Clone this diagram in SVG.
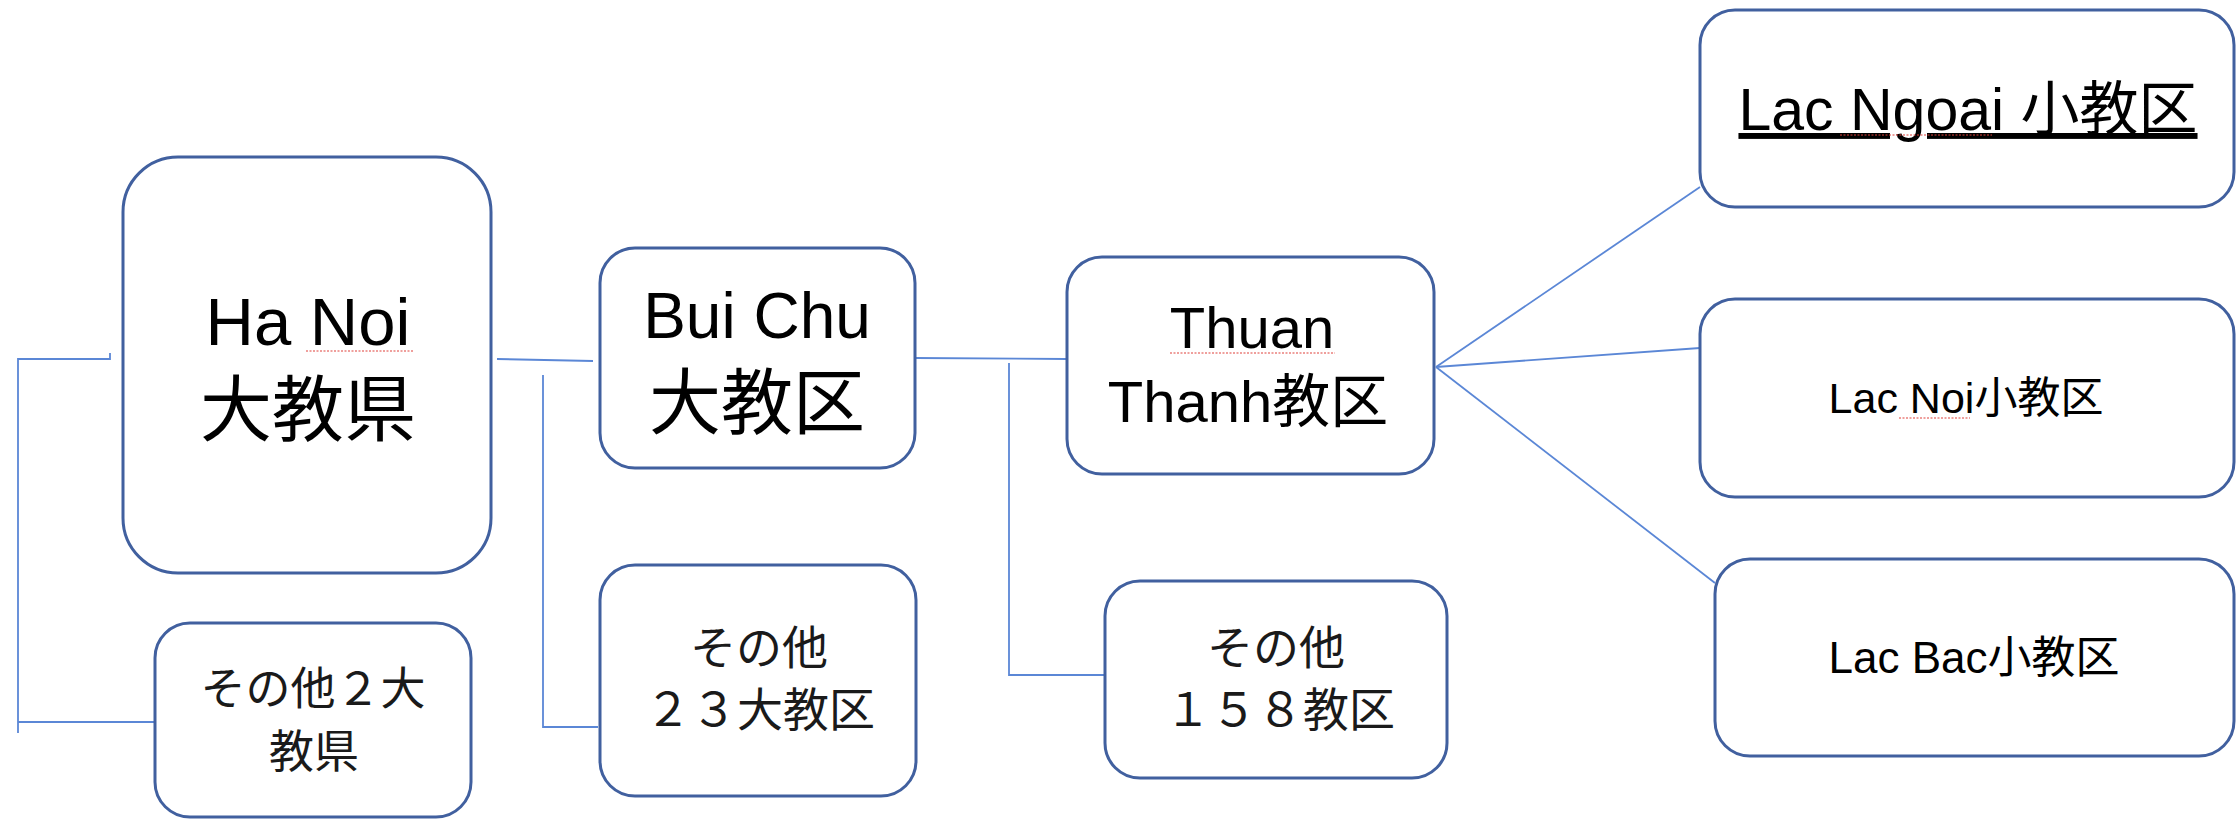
<svg xmlns="http://www.w3.org/2000/svg" width="2237" height="819" viewBox="0 0 2237 819">
<style>
.box{fill:#ffffff;stroke:#41609F;stroke-width:3}
.con{fill:none;stroke:#5B87D6;stroke-width:1.8}
.t{font-family:"Liberation Sans","Noto Sans CJK JP",sans-serif;fill:#000;text-anchor:middle}
.j{font-family:"Noto Sans CJK JP",sans-serif;fill:#1a1a1a;text-anchor:middle}
.sp{fill:none;stroke:#E0403A;stroke-width:1.2;stroke-dasharray:2 1.5}
</style>
<rect width="2237" height="819" fill="#ffffff"/>
<g id="connectors">
<path class="con" d="M110,353 L110,359 L18,359 L18,733"/>
<path class="con" d="M18,722 L155,722"/>
<path class="con" d="M497,359 L593,361"/>
<path class="con" d="M543,375 L543,727 L598,727"/>
<path class="con" d="M915,358 L1067,359"/>
<path class="con" d="M1009,363 L1009,675 L1105,675"/>
<path class="con" d="M1436,367 L1700,187"/>
<path class="con" d="M1436,367 L1700,348"/>
<path class="con" d="M1436,367 L1715,583"/>
</g>
<g id="hanoi">
<rect class="box" x="123" y="157" width="368" height="416" rx="55"/>
<text class="t" x="308" y="345" font-size="67">Ha Noi</text>
<path class="sp" d="M306,351 L413,351"/>
<text class="t" x="308" y="435" font-size="72">大教県</text>
</g>
<g id="other2">
<rect class="box" x="155" y="623" width="316" height="194" rx="35"/>
<text class="j" x="313" y="705" font-size="45">その他２大</text>
<text class="j" x="314" y="768" font-size="45">教県</text>
</g>
<g id="buichu">
<rect class="box" x="600" y="248" width="315" height="220" rx="35"/>
<text class="t" x="757" y="338" font-size="64">Bui Chu</text>
<text class="t" x="757" y="428" font-size="72">大教区</text>
</g>
<g id="other23">
<rect class="box" x="600" y="565" width="316" height="231" rx="35"/>
<text class="j" x="759" y="664" font-size="46">その他</text>
<text class="j" x="760" y="726" font-size="46">２３大教区</text>
</g>
<g id="thuanthanh">
<rect class="box" x="1067" y="257" width="367" height="217" rx="35"/>
<text class="t" x="1252" y="348" font-size="58">Thuan</text>
<path class="sp" d="M1170,353 L1335,353"/>
<text class="t" x="1248" y="422" font-size="58">Thanh教区</text>
</g>
<g id="other158">
<rect class="box" x="1105" y="581" width="342" height="197" rx="35"/>
<text class="j" x="1276" y="664" font-size="46">その他</text>
<text class="j" x="1280" y="726" font-size="46">１５８教区</text>
</g>
<g id="lacngoai">
<rect class="box" x="1700" y="10" width="534" height="197" rx="35"/>
<text class="t" x="1968" y="130" font-size="59" text-decoration="underline">Lac Ngoai 小教区</text>
<path class="sp" d="M1840,135 L1992,135"/>
</g>
<g id="lacnoi">
<rect class="box" x="1700" y="299" width="534" height="198" rx="35"/>
<text class="t" x="1966" y="413" font-size="43">Lac Noi小教区</text>
<path class="sp" d="M1899,418 L1970,418"/>
</g>
<g id="lacbac">
<rect class="box" x="1715" y="559" width="519" height="197" rx="35"/>
<text class="t" x="1974" y="673" font-size="44">Lac Bac小教区</text>
</g>
</svg>
